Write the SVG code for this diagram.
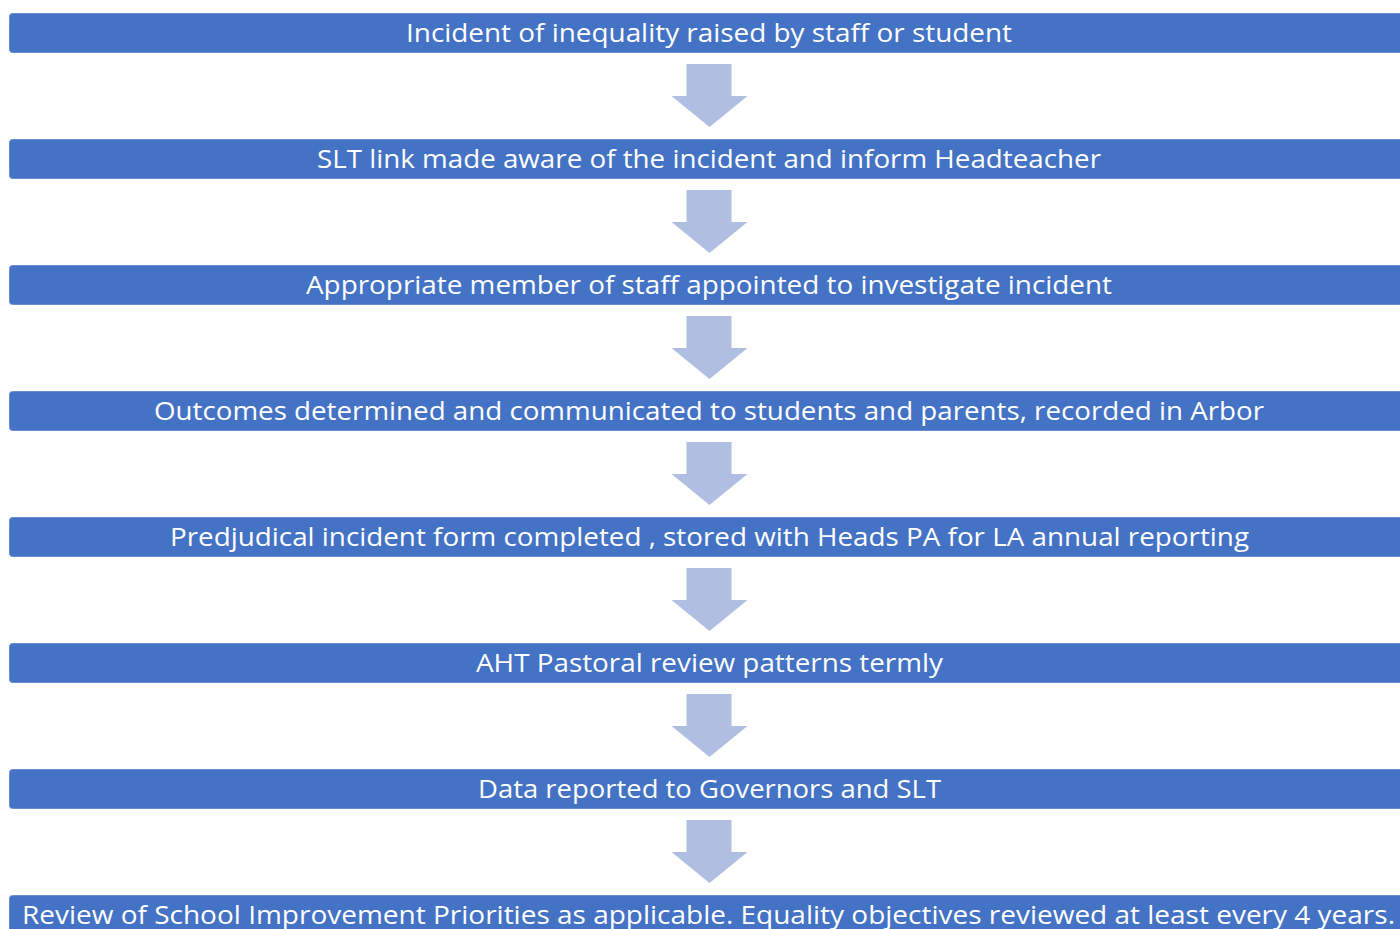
<svg xmlns="http://www.w3.org/2000/svg" width="1400" height="929" viewBox="0 0 1400 929">
<defs>
<style>
.box{fill:#4472C4;stroke:#6A8DD0;stroke-width:1}
.lbl{fill:#FFFFFF;font-family:"Open Sans","Noto Sans","Liberation Sans",sans-serif;font-size:26px;text-anchor:middle}
.arr{fill:#B0BEE1}
</style>
<path id="dn" d="M-23,0 H22 V32 H38 L0,63 L-38,32 H-23 Z"/>
</defs>
<rect width="1400" height="929" fill="#FFFFFF"/>
<g id="connectors">
<use href="#dn" class="arr" x="709.5" y="64"/>
<use href="#dn" class="arr" x="709.5" y="190"/>
<use href="#dn" class="arr" x="709.5" y="316"/>
<use href="#dn" class="arr" x="709.5" y="442"/>
<use href="#dn" class="arr" x="709.5" y="568"/>
<use href="#dn" class="arr" x="709.5" y="694"/>
<use href="#dn" class="arr" x="709.5" y="820"/>
</g>
<g id="n1"><rect class="box" x="9.5" y="13.5" width="1400" height="39" rx="3"/><text class="lbl" x="709" y="42" textLength="606" lengthAdjust="spacingAndGlyphs">Incident of inequality raised by staff or student</text></g>
<g id="n2"><rect class="box" x="9.5" y="139.5" width="1400" height="39" rx="3"/><text class="lbl" x="709" y="168" textLength="784" lengthAdjust="spacingAndGlyphs">SLT link made aware of the incident and inform Headteacher</text></g>
<g id="n3"><rect class="box" x="9.5" y="265.5" width="1400" height="39" rx="3"/><text class="lbl" x="709" y="294" textLength="806" lengthAdjust="spacingAndGlyphs">Appropriate member of staff appointed to investigate incident</text></g>
<g id="n4"><rect class="box" x="9.5" y="391.5" width="1400" height="39" rx="3"/><text class="lbl" x="709" y="420" textLength="1110" lengthAdjust="spacingAndGlyphs">Outcomes determined and communicated to students and parents, recorded in Arbor</text></g>
<g id="n5"><rect class="box" x="9.5" y="517.5" width="1400" height="39" rx="3"/><text class="lbl" x="709.5" y="546" textLength="1079" lengthAdjust="spacingAndGlyphs">Predjudical incident form completed , stored with Heads PA for LA annual reporting</text></g>
<g id="n6"><rect class="box" x="9.5" y="643.5" width="1400" height="39" rx="3"/><text class="lbl" x="709.5" y="672" textLength="467" lengthAdjust="spacingAndGlyphs">AHT Pastoral review patterns termly</text></g>
<g id="n7"><rect class="box" x="9.5" y="769.5" width="1400" height="39" rx="3"/><text class="lbl" x="709.5" y="798" textLength="463" lengthAdjust="spacingAndGlyphs">Data reported to Governors and SLT</text></g>
<g id="n8"><rect class="box" x="9.5" y="895.5" width="1400" height="39" rx="3"/><text class="lbl" x="708.5" y="924" textLength="1373" lengthAdjust="spacingAndGlyphs">Review of School Improvement Priorities as applicable. Equality objectives reviewed at least every 4 years.</text></g>
</svg>
